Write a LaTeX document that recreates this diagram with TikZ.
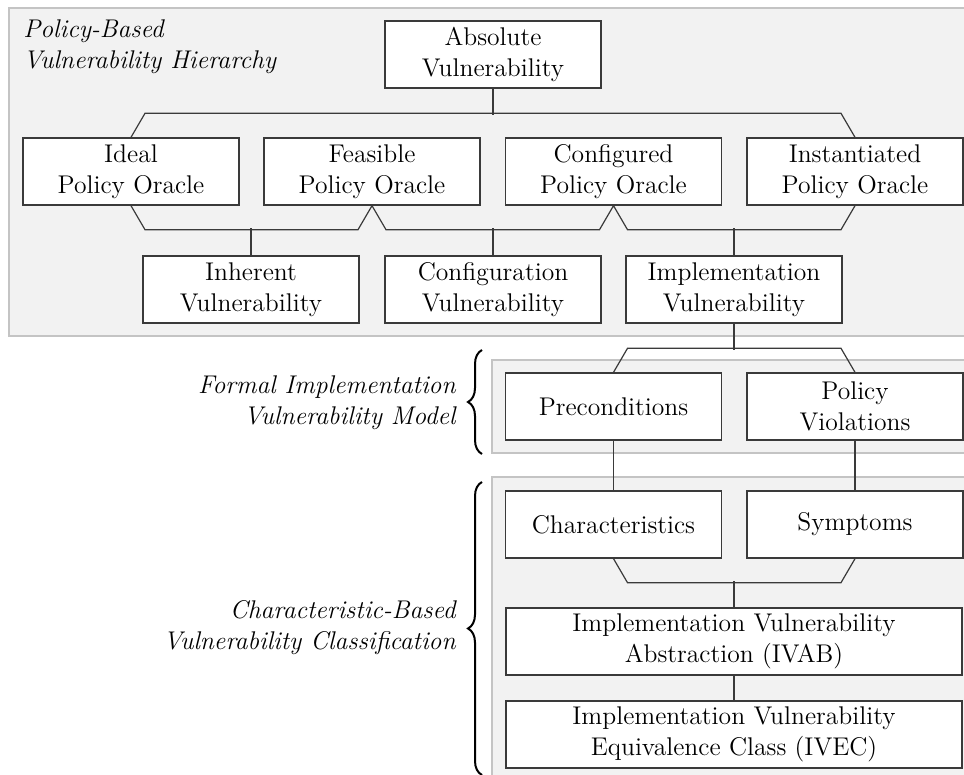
\documentclass[tikz,border=0pt]{standalone}
\usetikzlibrary{calc,decorations.pathreplacing}
\definecolor{panelfill}{HTML}{F2F2F2}
\definecolor{panelline}{HTML}{C4C4C4}
\definecolor{boxline}{HTML}{3A3A3A}
\begin{document}
\begin{tikzpicture}[x=0.5pt,y=-0.5pt,
  box/.style={draw=boxline,line width=0.7pt,fill=white,minimum width=108pt,
    minimum height=33.5pt,inner sep=0pt,align=center,
    font=\fontsize{12.8}{15.5}\selectfont},
  widebox/.style={box,minimum width=228pt},
  conn/.style={draw=boxline,line width=0.6pt},
  panel/.style={draw=panelline,fill=panelfill,line width=0.6pt},
  grouplabel/.style={align=right,inner sep=0pt,font=\fontsize{12.8}{15.5}\selectfont\itshape},
  bracestyle/.style={draw=black,line width=1pt,decorate,decoration={brace,amplitude=7pt}}]
\useasboundingbox (0,0) rectangle (964,775);
% panels
\path[panel] (9,8) rectangle (972,336);
\path[panel] (492,360) rectangle (972,453);
\path[panel] (492,477) rectangle (972,790);
% group labels
\node[grouplabel,align=left,anchor=north west] (lblA) at (23,19) {Policy-Based\\Vulnerability Hierarchy};
\node[grouplabel,anchor=east] (lblB) at (456,403) {Formal Implementation\\Vulnerability Model};
\node[grouplabel,anchor=east] (lblC) at (456,628) {Characteristic-Based\\Vulnerability Classification};
% braces
\coordinate (b1s) at (482,454);
\coordinate (b1e) at (482,350);
\coordinate (b2s) at (482,775);
\coordinate (b2e) at (482,482);
\draw[bracestyle] (b1s) -- (b1e);
\draw[bracestyle] (b2s) -- (b2e);
% boxes
\node[box] (abs) at (493,54.5) {Absolute\\Vulnerability};
\node[box] (ideal) at (131,171.5) {Ideal\\Policy Oracle};
\node[box] (feas) at (372,171.5) {Feasible\\Policy Oracle};
\node[box] (conf) at (613.5,171.5) {Configured\\Policy Oracle};
\node[box] (inst) at (855,171.5) {Instantiated\\Policy Oracle};
\node[box] (inh) at (251,289.5) {Inherent\\Vulnerability};
\node[box] (cfgv) at (493,289.5) {Configuration\\Vulnerability};
\node[box] (impl) at (734,289.5) {Implementation\\Vulnerability};
\node[box] (pre) at (613.5,406.5) {Preconditions};
\node[box] (pv) at (855,406.5) {Policy\\Violations};
\node[box] (chr) at (613.5,524.5) {Characteristics};
\node[box] (sym) at (855,524.5) {Symptoms};
\node[widebox] (ivab) at (734,641.5) {Implementation Vulnerability\\Abstraction (IVAB)};
\node[widebox] (ivec) at (734,734.5) {Implementation Vulnerability\\Equivalence Class (IVEC)};
% connectors
\draw[conn] (ideal.north) -- ++(14,-24) -- ($(inst.north)+(-14,-24)$) -- (inst.north);
\draw[conn] (abs.south) -- ++(0,26);
\draw[conn] (ideal.south) -- ++(14,24) -- ($(feas.south)+(-14,24)$) -- (feas.south)
  -- ++(14,24) -- ($(conf.south)+(-14,24)$) -- (conf.south)
  -- ++(14,24) -- ($(inst.south)+(-14,24)$) -- (inst.south);
\draw[conn] (inh.north) -- ++(0,-27);
\draw[conn] (cfgv.north) -- ++(0,-27);
\draw[conn] (impl.north) -- ++(0,-27);
\draw[conn] (impl.south) -- ++(0,26);
\draw[conn] (pre.north) -- ++(14,-24) -- ($(pv.north)+(-14,-24)$) -- (pv.north);
\draw[conn] (pre.south) -- (chr.north);
\draw[conn] (pv.south) -- (sym.north);
\draw[conn] (chr.south) -- ++(14,24) -- ($(sym.south)+(-14,24)$) -- (sym.south);
\draw[conn] (ivab.north) -- ++(0,-26);
\draw[conn] (ivab.south) -- (ivec.north);
\end{tikzpicture}
\end{document}
